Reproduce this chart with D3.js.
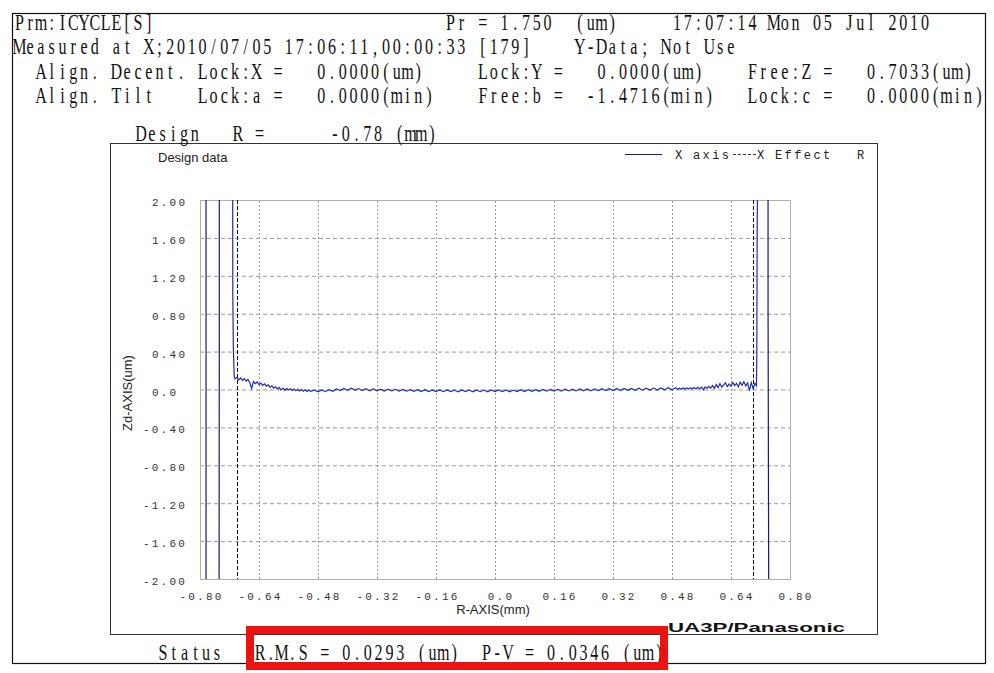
<!DOCTYPE html>
<html>
<head>
<meta charset="utf-8">
<script src="https://cdn.jsdelivr.net/npm/d3@7"></script>
<style>
  body { margin: 0; background: #fff; }
  svg { display: block; }
</style>
</head>
<body>
<svg id="chart" width="994" height="673"></svg>
<script>
// header text, as [column, text] tokens on a fixed character grid
const headerLine1 = [[0, "Prm:ICYCLE[S]"], [40, "Pr = 1.750  (um)"], [61, "17:07:14 Mon 05 Jul 2010"]];
const headerLine2 = [[0, "Measured at X;2010/07/05 17:06:11,00:00:33 [179]"], [52, "Y-Data; Not Use"]];
const headerLine3 = [[2, "Align."], [9, "Decent."], [17, "Lock:X ="], [28, "0.0000(um)"],
                     [43, "Lock:Y ="], [54, "0.0000(um)"], [68, "Free:Z ="], [79, "0.7033(um)"]];
const headerLine4 = [[2, "Align."], [9, "Tilt"], [17, "Lock:a ="], [28, "0.0000(min)"],
                     [43, "Free:b ="], [53, "-1.4716(min)"], [68, "Lock:c ="], [79, "0.0000(min)"]];
const designLine = [[11, "Design"], [20, "R ="], [29, "-0.78 (mm)"]];
const statusLine = [[13, "Status"], [22, "R.M.S = 0.0293 (um)  P-V = 0.0346 (um)"]];

// axes
const xTicks = [-0.80, -0.64, -0.48, -0.32, -0.16, 0, 0.16, 0.32, 0.48, 0.64, 0.80];
const xTickLabels = ["-0.80", "-0.64", "-0.48", "-0.32", "-0.16", "0.0", "0.16", "0.32", "0.48", "0.64", "0.80"];
const yTicks = [2, 1.6, 1.2, 0.8, 0.4, 0, -0.4, -0.8, -1.2, -1.6, -2];
const yTickLabels = ["2.00", "1.60", "1.20", "0.80", "0.40", "0.0", "-0.40", "-0.80", "-1.20", "-1.60", "-2.00"];

// X Effect R
const effectR = [-0.70, 0.70];

// X axis: off-scale pieces outside the effective radius
const edgeLeftA = [[-0.7837, -2.5], [-0.7837, 2.5]];
const edgeLeftB = [[-0.7477, 2.5], [-0.7477, 0.50], [-0.7483, -2.5]];
const edgeRight = [[0.7405, 2.5], [0.7405, 0.89], [0.7425, -2.5]];

// X axis: measured profile (r in mm, Zd in um)
const profile = [
  [-0.7115, 2.5], [-0.7110, 0.98], [-0.7095, 0.42], [-0.7070, 0.13],
  [-0.705, 0.112], [-0.700, 0.128], [-0.695, 0.101], [-0.690, 0.122], [-0.685, 0.096],
  [-0.680, 0.114], [-0.675, 0.088], [-0.670, 0.106], [-0.665, 0.071], [-0.660, 0.012],
  [-0.655, 0.084], [-0.650, 0.062], [-0.645, 0.079], [-0.640, 0.051], [-0.635, 0.068],
  [-0.630, 0.043], [-0.625, 0.059], [-0.620, 0.036], [-0.615, 0.049], [-0.610, 0.022],
  [-0.605, 0.038], [-0.600, 0.014], [-0.595, 0.029], [-0.590, 0.006], [-0.585, 0.021],
  [-0.580, -0.004], [-0.575, 0.015], [-0.570, -0.008], [-0.565, 0.011], [-0.560, -0.006],
  [-0.555, 0.008], [-0.550, -0.011], [-0.545, 0.004], [-0.540, -0.013], [-0.535, 0.002],
  [-0.530, -0.015], [-0.525, -0.001], [-0.520, -0.018], [-0.515, -0.004], [-0.510, -0.021],
  [-0.505, -0.006], [-0.500, -0.019],
  [-0.49, -0.006], [-0.48, -0.025], [-0.47, -0.004], [-0.46, -0.023], [-0.45, -0.001],
  [-0.44, -0.019], [-0.43, 0.006], [-0.42, -0.012], [-0.41, 0.011], [-0.40, -0.008],
  [-0.39, 0.013], [-0.38, -0.006], [-0.37, 0.010], [-0.36, -0.011], [-0.35, 0.008],
  [-0.34, -0.013], [-0.33, 0.006], [-0.32, -0.014], [-0.31, 0.004], [-0.30, -0.016],
  [-0.29, 0.003], [-0.28, -0.015], [-0.27, 0.002], [-0.26, -0.017], [-0.25, 0.001],
  [-0.24, -0.018], [-0.23, -0.001], [-0.22, -0.019], [-0.21, -0.002], [-0.20, -0.021],
  [-0.19, -0.003], [-0.18, -0.022], [-0.17, -0.004], [-0.16, -0.021], [-0.15, -0.005],
  [-0.14, -0.023], [-0.13, -0.004], [-0.12, -0.022], [-0.11, -0.006], [-0.10, -0.024],
  [-0.09, -0.005], [-0.08, -0.022], [-0.07, -0.006], [-0.06, -0.024], [-0.05, -0.005],
  [-0.04, -0.023], [-0.03, -0.006], [-0.02, -0.025], [-0.01, -0.005], [0.00, -0.022],
  [0.01, -0.004], [0.02, -0.023], [0.03, -0.005], [0.04, -0.024], [0.05, -0.006],
  [0.06, -0.022], [0.07, -0.003], [0.08, -0.021], [0.09, -0.002], [0.10, -0.020],
  [0.11, -0.001], [0.12, -0.019], [0.13, 0.000], [0.14, -0.018], [0.15, 0.001],
  [0.16, -0.017], [0.17, 0.002], [0.18, -0.016], [0.19, 0.003], [0.20, -0.015],
  [0.21, 0.004], [0.22, -0.015], [0.23, 0.005], [0.24, -0.014], [0.25, 0.006],
  [0.26, -0.013], [0.27, 0.007], [0.28, -0.012], [0.29, 0.008], [0.30, -0.011],
  [0.31, 0.009], [0.32, -0.011], [0.33, 0.010], [0.34, -0.010], [0.35, 0.011],
  [0.36, -0.009], [0.37, 0.012], [0.38, -0.008], [0.39, 0.013], [0.40, -0.007],
  [0.41, 0.014], [0.42, -0.006], [0.43, 0.015], [0.44, -0.005], [0.45, 0.016],
  [0.46, -0.004], [0.47, 0.018], [0.48, -0.003], [0.49, 0.019],
  [0.495, 0.004], [0.500, 0.014], [0.505, 0.003], [0.510, 0.016], [0.515, 0.005],
  [0.520, 0.017], [0.525, 0.004], [0.530, 0.019], [0.535, 0.007], [0.540, 0.021],
  [0.545, 0.006], [0.550, 0.023], [0.555, 0.009], [0.560, 0.026], [0.565, -0.004],
  [0.570, 0.028], [0.575, 0.012], [0.580, 0.034], [0.585, 0.015], [0.590, 0.041],
  [0.595, 0.013], [0.600, 0.052], [0.605, 0.021], [0.610, 0.063], [0.615, 0.024],
  [0.620, 0.048], [0.625, 0.071], [0.630, 0.030], [0.635, 0.058], [0.640, 0.036],
  [0.645, 0.074], [0.650, 0.041], [0.655, 0.066], [0.660, 0.029], [0.665, 0.078],
  [0.670, 0.045], [0.675, 0.083], [0.680, 0.038], [0.685, 0.069], [0.690, -0.012],
  [0.695, 0.072], [0.700, 0.010], [0.705, 0.065],
  [0.709, 0.040], [0.7100, 0.36], [0.7110, 1.71], [0.7125, 2.5]
];

const CW = 10.78;   // character cell width of the header font
const SX = 0.70;    // horizontal squeeze of the serif glyphs

// places each non-blank character in the centre of its cell
function monoText(g, tokens, originX, baseline) {
    tokens.forEach(([col, str]) => {
        const chars = [], xs = [];
        Array.from(str).forEach((c, i) => {
            if (c !== " ") {
                chars.push(c);
                xs.push(((originX + (col + i + 0.5) * CW) / SX).toFixed(2));
            }
        });
        g.append("text").attr("x", xs.join(" ")).attr("y", baseline).text(chars.join(""));
    });
}

function makeChart() {
    const svg = d3.select("#chart");
    svg.append("rect").attr("width", 994).attr("height", 673).attr("fill", "#fff");

    // outer and inner frames
    svg.append("rect").attr("x", 12.5).attr("y", 13.5).attr("width", 973).attr("height", 650)
        .attr("fill", "none").attr("stroke", "#111").attr("stroke-width", 1.2);
    svg.append("rect").attr("x", 110.5).attr("y", 143.5).attr("width", 767).attr("height", 491)
        .attr("fill", "none").attr("stroke", "#333");

    // header
    const head = svg.append("g")
        .attr("transform", `scale(${SX},1)`)
        .attr("font-family", "'Liberation Serif', 'DejaVu Serif', serif")
        .attr("font-size", 23).attr("fill", "#111")
        .attr("text-anchor", "middle");
    monoText(head, headerLine1, 14, 30);
    monoText(head, headerLine2, 14, 54);
    monoText(head, headerLine3, 14, 79);
    monoText(head, headerLine4, 14, 103);
    monoText(head, designLine, 17, 141);
    monoText(head, statusLine, 17.5, 660);

    // scales
    let x = d3.scaleLinear().domain([-0.8, 0.8]).range([200, 790]);
    let y = d3.scaleLinear().domain([-2, 2]).range([579, 200]);
    const plotH = y(-2) - y(2);

    // grid
    svg.append("g").attr("transform", `translate(0,${y(-2)})`)
        .call(d3.axisBottom(x).tickValues(xTicks.slice(1, -1)).tickSize(-plotH).tickFormat(""))
        .call(g => g.select(".domain").remove())
        .selectAll("line").attr("stroke", "#9a9a9a").attr("stroke-dasharray", "2,2");
    svg.append("g").attr("transform", `translate(${x(-0.8)},0)`)
        .call(d3.axisLeft(y).tickValues(yTicks.slice(1, -1)).tickSize(-(x(0.8) - x(-0.8))).tickFormat(""))
        .call(g => g.select(".domain").remove())
        .selectAll("line").attr("stroke", "#9a9a9a").attr("stroke-dasharray", "4,3");

    svg.append("rect").attr("x", x(-0.8) + 0.5).attr("y", y(2) + 0.5)
        .attr("width", x(0.8) - x(-0.8)).attr("height", plotH)
        .attr("fill", "none").attr("stroke", "#b0b0b0");

    // tick labels
    svg.append("g").attr("transform", `translate(0,${y(-2)})`)
        .call(d3.axisBottom(x).tickValues(xTicks).tickSize(0).tickPadding(13)
            .tickFormat((d, i) => xTickLabels[i]))
        .call(g => g.select(".domain").remove())
        .call(g => g.selectAll("text")
            .attr("font-family", "'Liberation Mono', monospace").attr("font-size", 11)
            .attr("letter-spacing", 2.2).attr("fill", "#333")
            .attr("dx", d => d < 0 ? 1 : 5.5));
    svg.append("g").attr("transform", `translate(${x(-0.8)},0)`)
        .call(d3.axisLeft(y).tickValues(yTicks).tickSize(0).tickFormat((d, i) => yTickLabels[i]))
        .call(g => g.select(".domain").remove())
        .call(g => g.selectAll("text")
            .attr("font-family", "'Liberation Mono', monospace").attr("font-size", 11)
            .attr("letter-spacing", 2.2).attr("fill", "#333")
            .attr("text-anchor", "start").attr("dy", "0.5em")
            .attr("x", d => d < 0 ? -57 : -48));

    // axis titles
    const sans = "'Liberation Sans', Arial, sans-serif";
    svg.append("text").attr("x", 493).attr("y", 614).attr("text-anchor", "middle")
        .attr("font-family", sans).attr("font-size", 13).attr("fill", "#222").text("R-AXIS(mm)");
    svg.append("text").attr("transform", "translate(132,393) rotate(-90)").attr("text-anchor", "middle")
        .attr("font-family", sans).attr("font-size", 13).attr("fill", "#222").text("Zd-AXIS(um)");
    svg.append("text").attr("x", 158).attr("y", 162)
        .attr("font-family", sans).attr("font-size", 13).attr("fill", "#222").text("Design data");

    // legend
    svg.append("line").attr("x1", 625).attr("x2", 662).attr("y1", 154.5).attr("y2", 154.5)
        .attr("stroke", "#1a1a6e");
    svg.append("line").attr("x1", 733).attr("x2", 756).attr("y1", 154.5).attr("y2", 154.5)
        .attr("stroke", "#333").attr("stroke-dasharray", "3,2");
    svg.append("g").attr("font-family", "'Liberation Mono', monospace").attr("font-size", 12)
        .attr("letter-spacing", 2.4).attr("fill", "#222")
        .selectAll("text")
        .data([[675, "X"], [693, "axis"], [757, "X"], [775, "Effect"], [857, "R"]])
        .enter().append("text")
        .attr("x", d => d[0]).attr("y", 159).text(d => d[1]);

    // data lines, clipped to the plot area
    svg.append("clipPath").attr("id", "plotClip").append("rect")
        .attr("x", x(-0.8)).attr("y", y(2)).attr("width", x(0.8) - x(-0.8)).attr("height", plotH);

    svg.append("g").attr("clip-path", "url(#plotClip)")
        .selectAll("line").data(effectR).enter().append("line")
        .attr("x1", d => Math.round(x(d)) + 0.5).attr("x2", d => Math.round(x(d)) + 0.5)
        .attr("y1", y(2)).attr("y2", y(-2))
        .attr("stroke", "#111").attr("stroke-dasharray", "4,2");

    let lineMaker = d3.line().x(d => x(d[0])).y(d => y(d[1]));
    const plot = svg.append("g").attr("clip-path", "url(#plotClip)");
    plot.selectAll("path.edge").data([edgeLeftA, edgeLeftB, edgeRight]).enter().append("path")
        .attr("class", "edge")
        .attr("fill", "none").attr("stroke", "#1a1a70").attr("stroke-width", 1.2)
        .attr("d", d => lineMaker(d));
    plot.append("path")
        .attr("fill", "none").attr("stroke", "#1e2db0").attr("stroke-width", 1.2)
        .attr("d", lineMaker(profile));

    // maker mark
    svg.append("text").attr("x", 668).attr("y", 632).attr("textLength", 177)
        .attr("lengthAdjust", "spacingAndGlyphs")
        .attr("font-family", sans).attr("font-weight", "bold").attr("font-size", 13)
        .attr("fill", "#111").text("UA3P/Panasonic");

    // highlight box around the result
    svg.append("rect").attr("x", 250).attr("y", 630).attr("width", 414).attr("height", 36)
        .attr("fill", "none").attr("stroke", "#ee1111").attr("stroke-width", 8);
}

makeChart();
</script>
</body>
</html>
